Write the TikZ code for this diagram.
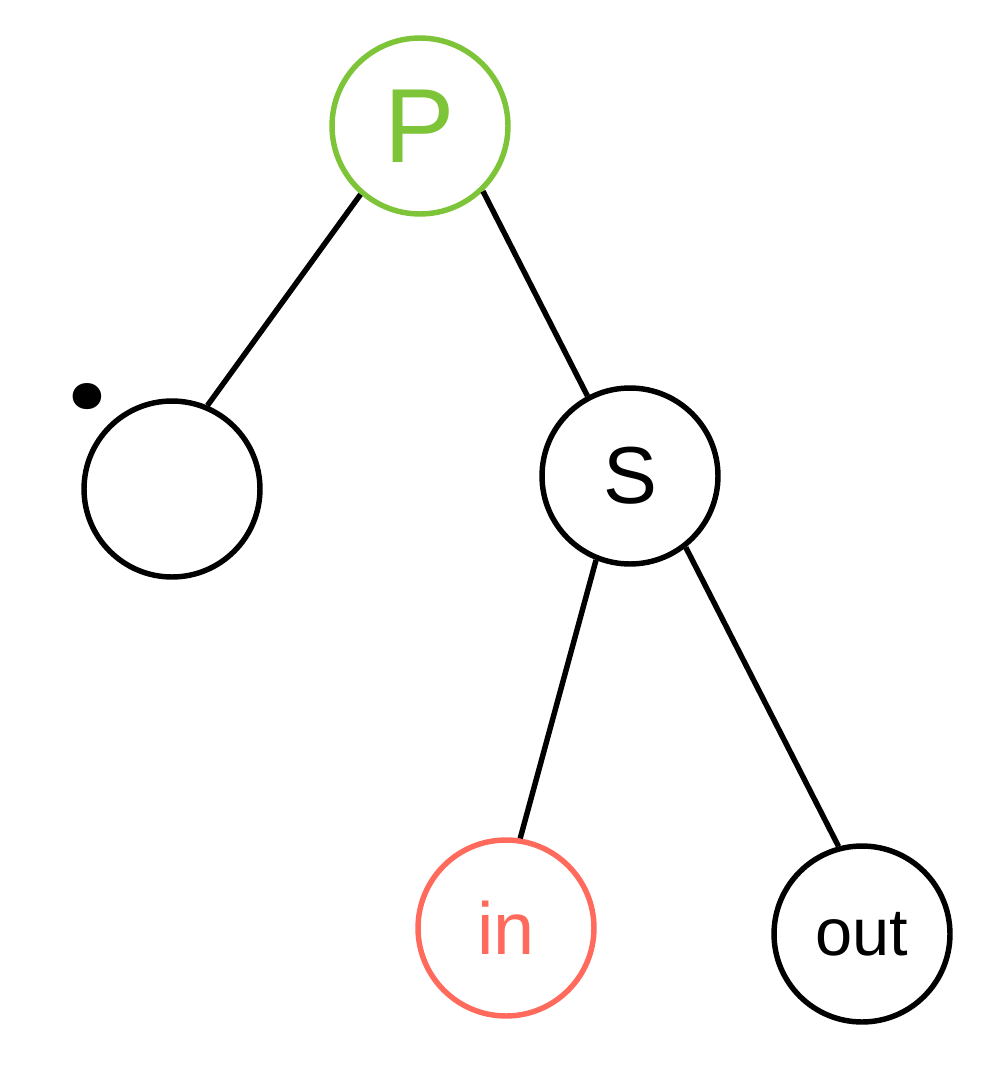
\documentclass[tikz,border=0pt]{standalone}
\usepackage{fontspec}
\setmainfont{Liberation Sans}
\newfontfamily\dotfont{Poppins}
\usepackage{tikz}

\definecolor{leafgreen}{RGB}{125,196,56}
\definecolor{salmonred}{RGB}{255,106,92}

\begin{document}
\begin{tikzpicture}[x=0.02cm, y=-0.02cm, line width=3.1pt,
    treenode/.style={circle, draw, inner sep=0pt, minimum size=3.52cm},
    treeedge/.style={draw, line cap=butt}]
    \useasboundingbox (0,0) rectangle (999,1068);
    % the tree
    \node[treenode, leafgreen, font=\fontsize{60}{60}\selectfont] (p) at (420,126) {P};
    \node[treenode] (left) at (172,489) {};
    \node[treenode, font=\fontsize{46}{46}\selectfont] (s) at (630,476) {S};
    \node[treenode, salmonred, font=\fontsize{42}{42}\selectfont] (in) at (506,928) {in};
    \node[treenode, font=\fontsize{38}{38}\selectfont] (out) at (862,934) {out};
    \node[anchor=base, inner sep=0pt, font=\dotfont\fontsize{80}{80}\bfseries\selectfont] (dot) at (87,408) {.};
    \draw[treeedge] (p.229.5) -- (left.67.6);
    \draw[treeedge] (p.314.6) -- (s.118.3);
    \draw[treeedge] (s.248.4) -- (in.81.8);
    \draw[treeedge] (s.308) -- (out.105.9);
\end{tikzpicture}
\end{document}
